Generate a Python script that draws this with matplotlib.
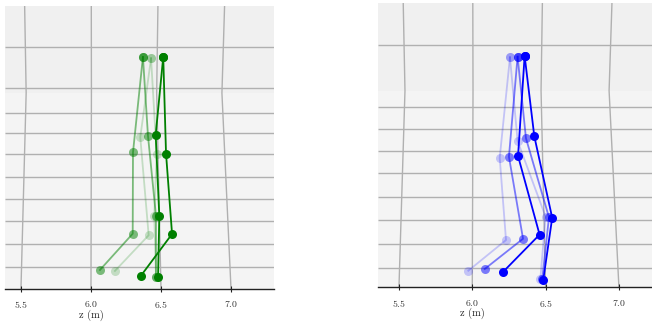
import matplotlib
matplotlib.use('Agg')
import matplotlib.pyplot as plt

plt.rcParams['font.family'] = 'cmr10'
plt.rcParams['axes.formatter.use_mathtext'] = True

# frames oldest -> newest
frame_alpha = [0.2, 0.5, 1.0]
z_ticks = [5.5, 6.0, 6.5, 7.0]

# left panel (green): root joint, then two legs of 3 joints (z in m, height in m)
green_root_z = [6.429, 6.371, 6.516]
green_root_h = [1.648, 1.657, 1.657]
green_leg1_z = [[6.469, 6.452, 6.464], [6.407, 6.464, 6.464], [6.462, 6.488, 6.479]]
green_leg1_h = [[0.962, 0.524, 0.088], [1.095, 0.524, 0.088], [1.102, 0.521, 0.084]]
green_leg2_z = [[6.352, 6.412, 6.171], [6.300, 6.298, 6.064], [6.536, 6.579, 6.357]]
green_leg2_h = [[1.084, 0.384, 0.129], [0.976, 0.395, 0.136], [0.966, 0.393, 0.095]]
green_grid_h = [1.726, 1.434, 1.259, 1.112, 0.962, 0.802, 0.645, 0.488, 0.324, 0.157]

# right panel (blue)
blue_root_z = [6.257, 6.309, 6.357]
blue_root_h = [1.568, 1.572, 1.577]
blue_leg1_z = [[6.309, 6.500, 6.464], [6.366, 6.523, 6.477], [6.423, 6.545, 6.484]]
blue_leg1_h = [[0.997, 0.481, 0.057], [1.016, 0.477, 0.055], [1.029, 0.474, 0.050]]
blue_leg2_z = [[6.187, 6.230, 5.973], [6.250, 6.346, 6.085], [6.312, 6.459, 6.211]]
blue_leg2_h = [[0.883, 0.322, 0.113], [0.890, 0.331, 0.125], [0.895, 0.359, 0.106]]
blue_grid_h = [1.650, 1.227, 1.079, 0.929, 0.777, 0.618, 0.459, 0.295, 0.132]


def draw_panel(ax, color, root_z, root_h, l1z, l1h, l2z, l2h, grid_h,
               xlim, ytop, wall_h, center, kj, kt, label_x):
    ax.set_xlim(*xlim)
    ax.set_ylim(0, ytop)
    ax.set_facecolor('#f4f4f4')
    ax.axhspan(wall_h, ytop, color='#f0f0f0', lw=0, zorder=0)
    # floor / wall grid
    ax.hlines(grid_h, xlim[0], xlim[1], color='#b0b0b0', lw=1.0, zorder=1)
    for t in z_ticks:
        ax.plot([t, center + (t - center) * kj, center + (t - center) * kt],
                [0, wall_h, ytop], color='#b0b0b0', lw=1.0, zorder=1)
    for i, a in enumerate(frame_alpha):
        for lz, lh in ((l1z, l1h), (l2z, l2h)):
            ax.plot([root_z[i]] + lz[i], [root_h[i]] + lh[i], '-o',
                    color=color, alpha=a, lw=1.3, ms=6.5, mew=0, zorder=3)
    for s in ('left', 'right', 'top'):
        ax.spines[s].set_visible(False)
    ax.spines['bottom'].set_color('#222222')
    ax.spines['bottom'].set_linewidth(1.0)
    ax.set_xticks(z_ticks)
    ax.set_yticks([])
    ax.tick_params(axis='x', direction='inout', length=5, width=0.8,
                   labelsize=7, pad=5, colors='#222222', labelcolor='#333333')
    ax.set_xlabel('z (m)', fontsize=7.5, color='#222222')
    ax.xaxis.set_label_coords(label_x, -0.072)


fig = plt.figure(figsize=(6.52, 3.23), dpi=100)

ax1 = fig.add_axes([5 / 652, 1 - 289 / 323, 269 / 652, 283.5 / 323])
draw_panel(ax1, 'green', green_root_z, green_root_h, green_leg1_z, green_leg1_h,
           green_leg2_z, green_leg2_h, green_grid_h,
           (5.386, 7.307), 2.025, 1.40, 6.046, 0.932, 0.952, 0.3196)

ax2 = fig.add_axes([378 / 652, 1 - 287.3 / 323, 274 / 652, 284.3 / 323])
draw_panel(ax2, 'blue', blue_root_z, blue_root_h, blue_leg1_z, blue_leg1_h,
           blue_leg2_z, blue_leg2_h, blue_grid_h,
           (5.357, 7.2256), 1.938, 1.34, 6.069, 0.928, 0.949, 0.344)

fig.savefig('out.png', dpi=100)
